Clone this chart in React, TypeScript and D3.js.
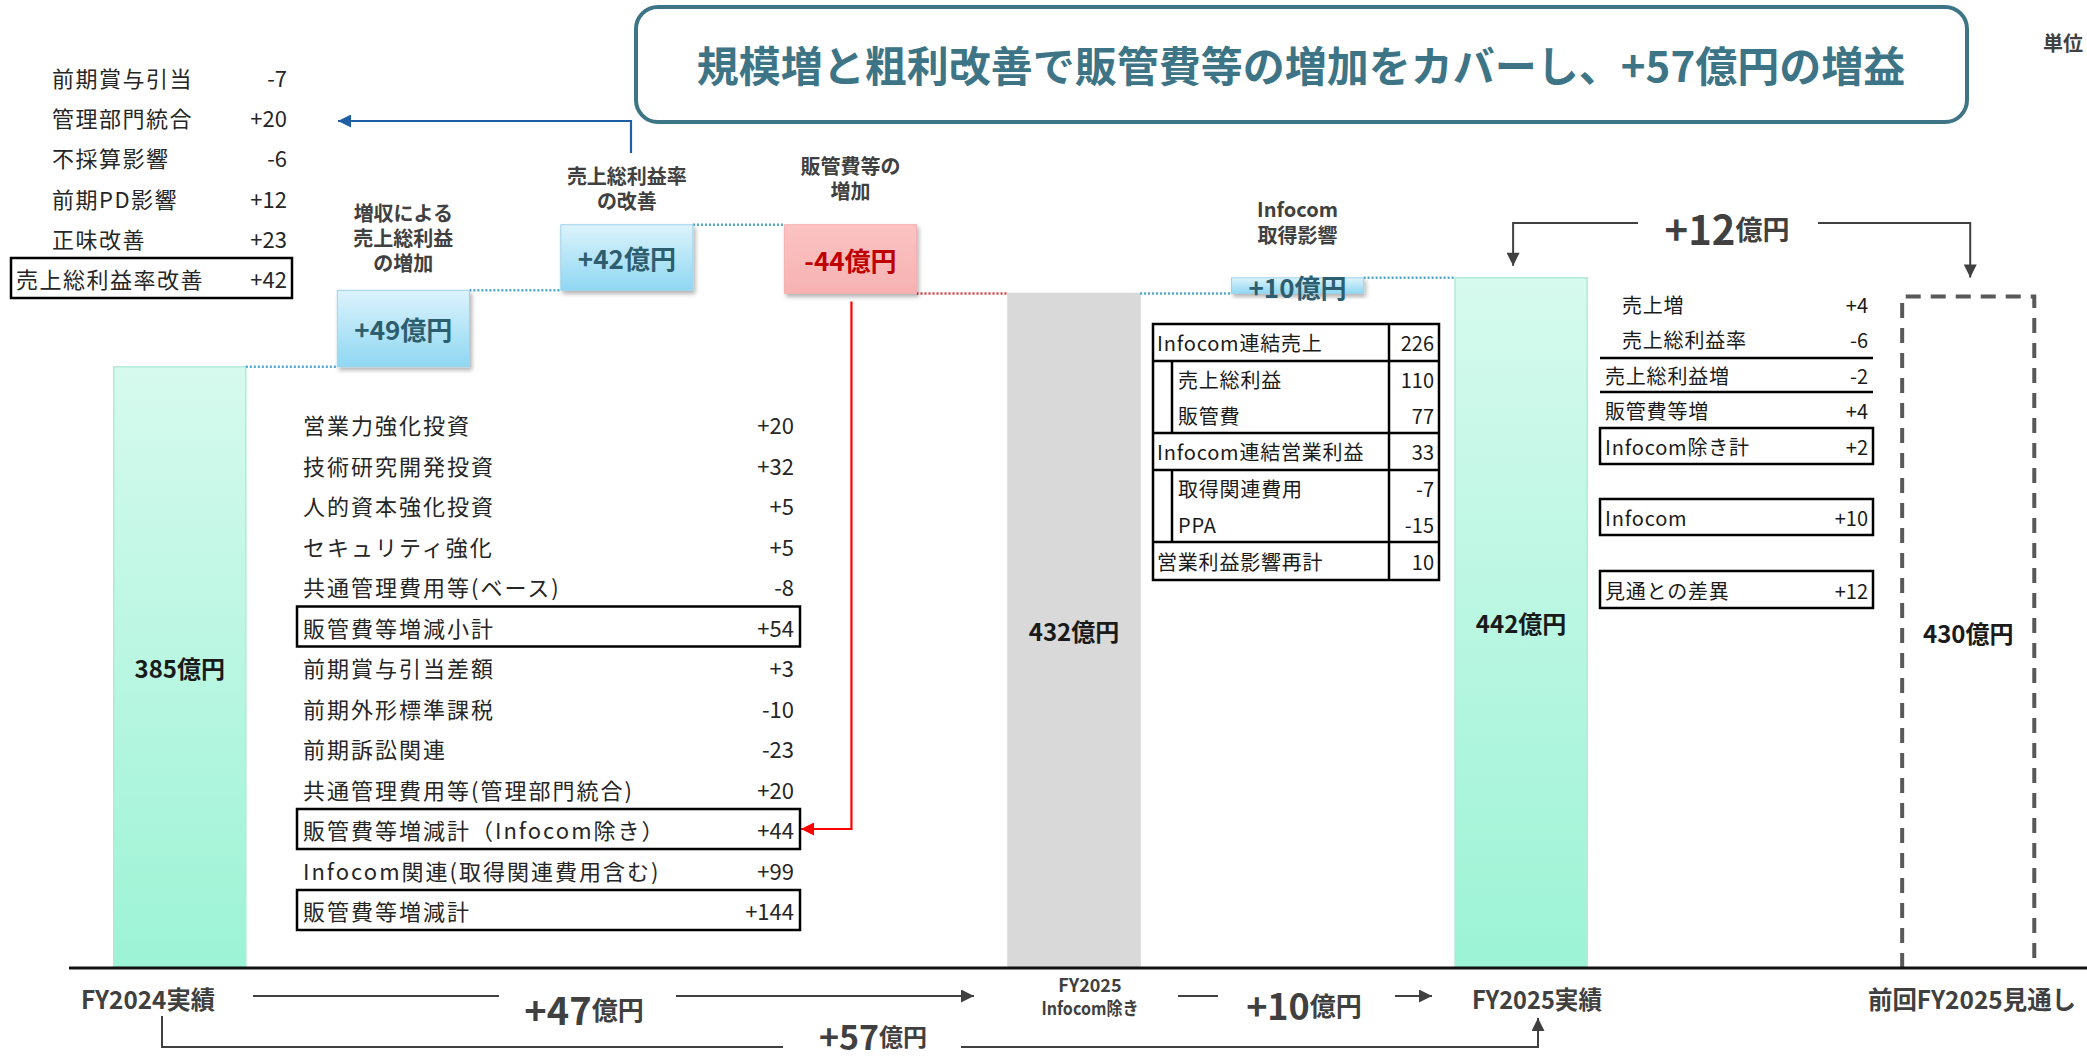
import React from 'react';
import * as d3 from 'd3';

const W = 2087;
const H = 1064;
const FONT = '"Noto Sans CJK JP", "Noto Sans", sans-serif';

// waterfall slots (one empty slot between FY2025 and the forecast)
const slots = ['FY2024実績', '増収', '粗利率', '販管費等', 'FY2025 Infocom除き', 'Infocom', 'FY2025実績', 'gap', '前回FY2025見通し'];
const fy2024Total = 385;
const stepDeltas = [49, 42, -44];
const stepNotes = [['増収による', '売上総利益', 'の増加'], ['売上総利益率', 'の改善'], ['販管費等の', '増加']];
const exInfocomTotal = 432;
const infocomDelta = 10;
const infocomNote = ['Infocom', '取得影響'];
const fy2025Total = 442;
const forecastTotal = 430;

// top-left breakdown of gross margin improvement
const marginLabels = ['前期賞与引当', '管理部門統合', '不採算影響', '前期PD影響', '正味改善', '売上総利益率改善'];
const marginValues = [-7, 20, -6, 12, 23, 42];

// SG&A breakdown
const sgaLabels = ['営業力強化投資', '技術研究開発投資', '人的資本強化投資', 'セキュリティ強化', '共通管理費用等(ベース)', '販管費等増減小計', '前期賞与引当差額', '前期外形標準課税', '前期訴訟関連', '共通管理費用等(管理部門統合)', '販管費等増減計（Infocom除き）', 'Infocom関連(取得関連費用含む)', '販管費等増減計'];
const sgaValues = [20, 32, 5, 5, -8, 54, 3, -10, -23, 20, 44, 99, 144];
const sgaBoxed = [5, 10, 12];

// Infocom table
const infocomLabels = ['Infocom連結売上', '売上総利益', '販管費', 'Infocom連結営業利益', '取得関連費用', 'PPA', '営業利益影響再計'];
const infocomValues = [226, 110, 77, 33, -7, -15, 10];

// difference vs previous forecast
const diffLabels = ['売上増', '売上総利益率', '売上総利益増', '販管費等増', 'Infocom除き計', 'Infocom', '見通との差異'];
const diffValues = [4, -6, -2, 4, 2, 10, 12];

const signed = (v: number) => (v > 0 ? `+${v}` : `${v}`);

export default function App() {
  const x = d3.scaleBand<string>().domain(slots).range([68, 2080]).paddingInner(0.409).paddingOuter(0.2045);
  const y = d3.scaleLinear().domain([0, 442]).range([968, 968 - 442 * 1.5615]);
  const bw = x.bandwidth();
  const xl = (i: number) => x(slots[i]) as number;
  const xc = (i: number) => xl(i) + bw / 2;

  // floating steps
  const steps = stepDeltas.map((d, i) => {
    const start = fy2024Total + d3.sum(stepDeltas.slice(0, i));
    return { slot: i + 1, start, end: start + d, delta: d };
  });
  const infStart = exInfocomTotal;
  const infEnd = exInfocomTotal + infocomDelta;

  const totals = [
    { slot: 0, value: fy2024Total, fill: 'url(#mint)', stroke: '#b3ead7' },
    { slot: 4, value: exInfocomTotal, fill: '#d9d9d9', stroke: '#d9d9d9' },
    { slot: 6, value: fy2025Total, fill: 'url(#mint)', stroke: '#b3ead7' },
  ];

  const connectors = [
    { x1: xl(0) + bw, x2: xl(1), v: fy2024Total, c: '#4fa9cf' },
    { x1: xl(1) + bw, x2: xl(2), v: steps[0].end, c: '#4fa9cf' },
    { x1: xl(2) + bw, x2: xl(3), v: steps[1].end, c: '#4fa9cf' },
    { x1: xl(3) + bw, x2: xl(4), v: steps[2].end, c: '#e03c3c' },
    { x1: xl(4) + bw, x2: xl(5), v: exInfocomTotal, c: '#4fa9cf' },
    { x1: xl(5) + bw, x2: xl(6), v: infEnd, c: '#4fa9cf' },
  ];

  const noteBottom = [262, 200, 190];
  const sgaRow = (i: number) => 424 + i * 40.5;
  const marginRow = (i: number) => 77 + i * 40.2;
  const infRowY = [342, 379, 415, 451, 488, 524, 561];
  const diffRowY = [304, 339, 375, 410, 446, 517, 590];
  const diffX = [1622, 1622, 1605, 1605, 1605, 1605, 1605];

  return (
    <svg width={W} height={H} style={{ position: 'absolute', left: 0, top: 0, background: '#fff' }} fontFamily={FONT}>
      <defs>
        <linearGradient id="mint" x1="0" y1="0" x2="0" y2="1">
          <stop offset="0" stopColor="#d6faee" />
          <stop offset="1" stopColor="#9cf3d5" />
        </linearGradient>
        <linearGradient id="blue" x1="0" y1="0" x2="0" y2="1">
          <stop offset="0" stopColor="#dcf3fc" />
          <stop offset="1" stopColor="#8fd7f2" />
        </linearGradient>
        <linearGradient id="pink" x1="0" y1="0" x2="0" y2="1">
          <stop offset="0" stopColor="#fbc3c3" />
          <stop offset="1" stopColor="#f7b2b2" />
        </linearGradient>
        <filter id="shadow" x="-10%" y="-10%" width="130%" height="140%">
          <feDropShadow dx="2" dy="3" stdDeviation="2" floodColor="#000" floodOpacity="0.3" />
        </filter>
        {[['arrBlue', '#1f5ea3'], ['arrRed', '#ff0000'], ['arrGray', '#404040']].map(([id, c]) => (
          <marker key={id} id={id} viewBox="0 0 10 10" refX="10" refY="5" markerWidth="15" markerHeight="13" markerUnits="userSpaceOnUse" orient="auto">
            <path d="M0,0 L10,5 L0,10 z" fill={c} />
          </marker>
        ))}
      </defs>

      {/* title */}
      <rect x={636} y={7} width={1331} height={115} rx={22} fill="#fff" stroke="#3e7586" strokeWidth={4} />
      <text x={1301} y={63} textAnchor="middle" dominantBaseline="central" fontSize={42} fontWeight={700} fill="#3e7586">
        規模増と粗利改善で販管費等の増加をカバーし、+57億円の増益
      </text>
      <text x={2043} y={42} dominantBaseline="central" fontSize={20} fontWeight={700} fill="#404040">単位</text>

      {/* total bars */}
      {totals.map(t => (
        <g key={t.slot}>
          <rect x={xl(t.slot)} y={y(t.value)} width={bw} height={y(0) - y(t.value)} fill={t.fill} stroke={t.stroke} strokeWidth={1.5} />
          <text x={xc(t.slot)} y={(y(0) + y(t.value)) / 2} textAnchor="middle" dominantBaseline="central" fontSize={24} fontWeight={700} fill="#1a1a1a">
            {t.value}億円
          </text>
        </g>
      ))}
      {/* forecast dashed bar */}
      <path d={`M${xl(8)},${y(0)} V${y(forecastTotal)} H${xl(8) + bw} V${y(0)}`} fill="none" stroke="#595959" strokeWidth={4} strokeDasharray="15 10" />
      <text x={xc(8)} y={(y(0) + y(forecastTotal)) / 2} textAnchor="middle" dominantBaseline="central" fontSize={24} fontWeight={700} fill="#1a1a1a">
        {forecastTotal}億円
      </text>

      {/* connectors */}
      {connectors.map((c, i) => (
        <line key={i} x1={c.x1} x2={c.x2} y1={y(c.v)} y2={y(c.v)} stroke={c.c} strokeWidth={2.5} strokeDasharray="2 2" />
      ))}

      {/* step boxes */}
      {steps.map((s, i) => {
        const top = y(Math.max(s.start, s.end));
        const bot = y(Math.min(s.start, s.end));
        const neg = s.delta < 0;
        return (
          <g key={i}>
            <rect x={xl(s.slot)} y={top} width={bw} height={bot - top} fill={neg ? 'url(#pink)' : 'url(#blue)'} stroke={neg ? '#f4b0b0' : '#9fd3e8'} strokeWidth={1} filter="url(#shadow)" />
            <text x={xc(s.slot)} y={(top + bot) / 2} textAnchor="middle" dominantBaseline="central" fontSize={26} fontWeight={700} fill={neg ? '#c00000' : '#2d5e70'}>
              {signed(s.delta)}億円
            </text>
            {stepNotes[i].map((line, j) => (
              <text key={j} x={xc(s.slot)} y={noteBottom[i] - (stepNotes[i].length - 1 - j) * 25} textAnchor="middle" dominantBaseline="central" fontSize={20} fontWeight={700} fill="#404040">
                {line}
              </text>
            ))}
          </g>
        );
      })}
      {/* infocom step */}
      <rect x={xl(5)} y={y(infEnd)} width={bw} height={y(infStart) - y(infEnd)} fill="url(#blue)" stroke="#9fd3e8" strokeWidth={1} filter="url(#shadow)" />
      <text x={xc(5)} y={(y(infEnd) + y(infStart)) / 2 + 1} textAnchor="middle" dominantBaseline="central" fontSize={26} fontWeight={700} fill="#2d5e70">
        {signed(infocomDelta)}億円
      </text>
      {infocomNote.map((line, j) => (
        <text key={j} x={xc(5)} y={208 + j * 26} textAnchor="middle" dominantBaseline="central" fontSize={20} fontWeight={700} fill="#404040">{line}</text>
      ))}

      {/* axis baseline */}
      <line x1={69} x2={W} y1={y(0)} y2={y(0)} stroke="#111" strokeWidth={3} />

      {/* top-left margin breakdown */}
      <rect x={11} y={marginRow(5) - 20} width={281} height={40} fill="none" stroke="#000" strokeWidth={2.5} />
      {marginLabels.map((l, i) => (
        <g key={l} fontSize={22} fill="#262626">
          <text x={i === 5 ? 16 : 52} y={marginRow(i)} dominantBaseline="central" letterSpacing={1.5}>{l}</text>
          <text x={287} y={marginRow(i)} textAnchor="end" dominantBaseline="central">{signed(marginValues[i])}</text>
        </g>
      ))}
      <path d="M631,153 V121 H338" fill="none" stroke="#1f5ea3" strokeWidth={2.2} markerEnd="url(#arrBlue)" />

      {/* SG&A breakdown */}
      {sgaBoxed.map(i => (
        <rect key={i} x={297} y={sgaRow(i) - 20} width={503} height={40} fill="none" stroke="#000" strokeWidth={2.5} />
      ))}
      {sgaLabels.map((l, i) => (
        <g key={l + i} fontSize={22} fill="#262626">
          <text x={303} y={sgaRow(i)} dominantBaseline="central" letterSpacing={2}>{l}</text>
          <text x={794} y={sgaRow(i)} textAnchor="end" dominantBaseline="central">{signed(sgaValues[i])}</text>
        </g>
      ))}
      <path d={`M${xc(3) + 1},${y(steps[2].end) + 8} V${sgaRow(10)} H801`} fill="none" stroke="#ff0000" strokeWidth={2.2} markerEnd="url(#arrRed)" />

      {/* Infocom table */}
      <g fill="none" stroke="#000" strokeWidth={2.5}>
        <rect x={1153} y={324} width={286} height={256} />
        <line x1={1389} x2={1389} y1={324} y2={580} />
        {[361, 433, 470, 542].map(v => <line key={v} x1={1153} x2={1439} y1={v} y2={v} />)}
        <line x1={1172} x2={1172} y1={361} y2={433} />
        <line x1={1172} x2={1172} y1={470} y2={542} />
      </g>
      {infocomLabels.map((l, i) => (
        <g key={l} fontSize={20} fill="#1a1a1a">
          <text x={[1, 2, 4, 5].includes(i) ? 1178 : 1157} y={infRowY[i]} dominantBaseline="central" letterSpacing={0.8}>{l}</text>
          <text x={1434} y={infRowY[i]} textAnchor="end" dominantBaseline="central">{infocomValues[i]}</text>
        </g>
      ))}

      {/* difference vs forecast */}
      <g fill="none" stroke="#000" strokeWidth={2.5}>
        <line x1={1600} x2={1873} y1={358} y2={358} />
        <line x1={1600} x2={1873} y1={392} y2={392} />
        <rect x={1600} y={428} width={273} height={36} />
        <rect x={1600} y={499} width={273} height={36} />
        <rect x={1600} y={571} width={273} height={37} />
      </g>
      {diffLabels.map((l, i) => (
        <g key={l} fontSize={20} fill="#1a1a1a">
          <text x={diffX[i]} y={diffRowY[i]} dominantBaseline="central" letterSpacing={0.8}>{l}</text>
          <text x={1868} y={diffRowY[i]} textAnchor="end" dominantBaseline="central">{signed(diffValues[i])}</text>
        </g>
      ))}

      {/* +12 bracket */}
      <path d={`M1638,223 H${xc(6) - 8} V${y(fy2025Total) - 12}`} fill="none" stroke="#404040" strokeWidth={2} markerEnd="url(#arrGray)" />
      <path d={`M1818,223 H${xc(8) + 2} V${y(forecastTotal) - 19}`} fill="none" stroke="#404040" strokeWidth={2} markerEnd="url(#arrGray)" />
      <text x={1727} y={228} textAnchor="middle" dominantBaseline="central" fontWeight={700} fill="#404040">
        <tspan fontSize={40}>+12</tspan><tspan fontSize={27}>億円</tspan>
      </text>

      {/* bottom labels */}
      <g fontWeight={700} fill="#404040" textAnchor="middle">
        <text x={148} y={998} dominantBaseline="central" fontSize={25} textLength={134} lengthAdjust="spacingAndGlyphs">FY2024実績</text>
        <text x={1090} y={984} dominantBaseline="central" fontSize={18}>FY2025</text>
        <text x={1090} y={1007} dominantBaseline="central" fontSize={18} textLength={97} lengthAdjust="spacingAndGlyphs">Infocom除き</text>
        <text x={1537} y={998} dominantBaseline="central" fontSize={25} textLength={130} lengthAdjust="spacingAndGlyphs">FY2025実績</text>
        <text x={1972} y={998} dominantBaseline="central" fontSize={25} textLength={208} lengthAdjust="spacingAndGlyphs">前回FY2025見通し</text>
      </g>
      <g stroke="#404040" strokeWidth={2} fill="none">
        <line x1={253} x2={499} y1={996} y2={996} />
        <path d="M676,996 H974" markerEnd="url(#arrGray)" />
        <line x1={1178} x2={1218} y1={996} y2={996} />
        <path d="M1395,996 H1432" markerEnd="url(#arrGray)" />
        <path d="M162,1016 V1047 H783" />
        <path d="M961,1047 H1538 V1018" markerEnd="url(#arrGray)" />
      </g>
      <g fontWeight={700} fill="#404040" textAnchor="middle">
        <text x={584} y={1008} dominantBaseline="central"><tspan fontSize={38}>+47</tspan><tspan fontSize={26}>億円</tspan></text>
        <text x={1304} y={1004} dominantBaseline="central"><tspan fontSize={36}>+10</tspan><tspan fontSize={26}>億円</tspan></text>
        <text x={873} y={1035} dominantBaseline="central"><tspan fontSize={34}>+57</tspan><tspan fontSize={24}>億円</tspan></text>
      </g>
    </svg>
  );
}
